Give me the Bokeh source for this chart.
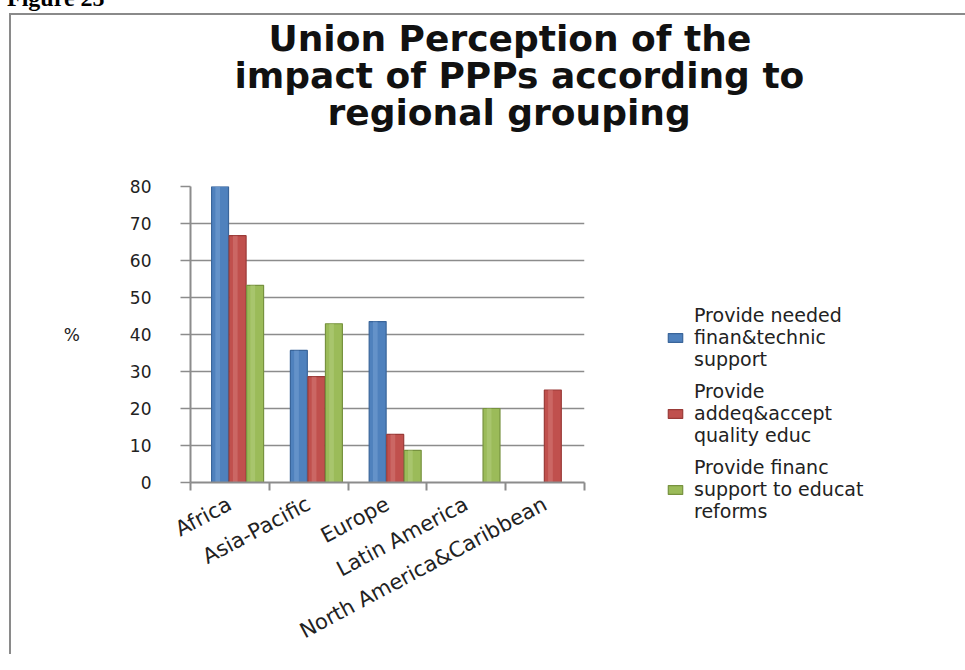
from bokeh.plotting import figure
from bokeh.models import (Range1d, LinearAxis, FixedTicker, Title, Div, CustomJSTickFormatter,
                          Legend, LegendItem, ColumnDataSource)
from bokeh.layouts import column
from bokeh.transform import dodge
from bokeh.embed import file_html
from bokeh.resources import INLINE

# ---- data ----
regions = ["Africa", "Asia-Pacific", "Europe", "Latin America", "North America&Caribbean"]
finan_technic = [80.0, 35.7, 43.5, 0.0, 0.0]
quality_educ = [66.7, 28.6, 13.0, 0.0, 25.0]
reforms_support = [53.3, 42.9, 8.7, 20.0, 0.0]
series_names = ["Provide needed\nfinan&technic\nsupport",
                "Provide\naddeq&accept\nquality educ",
                "Provide financ\nsupport to educat\nreforms"]
y_ticks = [0, 10, 20, 30, 40, 50, 60, 70, 80]
title_lines = ["Union Perception of the", "impact of PPPs according to", "regional grouping"]

n = len(regions)
pos = [i + 0.5 for i in range(n)]          # category centres on a 0..n axis
src = ColumnDataSource(dict(pos=pos, s1=finan_technic, s2=quality_educ, s3=reforms_support))

p = figure(x_range=Range1d(0, n), y_range=Range1d(0, 80),
           frame_width=392, frame_height=294, output_backend="svg", toolbar_location=None,
           x_axis_location=None, y_axis_location="left",
           min_border_left=179, min_border_right=0, min_border_top=171, min_border_bottom=174)
p.outline_line_color = None
p.background_fill_color = "white"
p.border_fill_color = "white"
p.margin = (0, 0, 0, 9)
p.styles = {"border-left": "2px solid #8a8a8a", "border-top": "2px solid #8a8a8a"}

GRAY = "#8c8c8c"
TXT = "#222222"
# y axis
p.yaxis.ticker = FixedTicker(ticks=y_ticks)
p.yaxis.axis_line_color = GRAY
p.yaxis.axis_line_width = 2
p.yaxis.major_tick_line_color = GRAY
p.yaxis.major_tick_line_width = 1.5
p.yaxis.major_tick_out = 10
p.yaxis.major_tick_in = 0
p.yaxis.minor_tick_line_color = None
p.yaxis.major_label_text_font = "DejaVu Sans"
p.yaxis.major_label_text_font_size = "17px"
p.yaxis.major_label_text_color = TXT
p.yaxis.major_label_standoff = 29
p.yaxis.axis_label = "%"
p.yaxis.axis_label_orientation = "horizontal"
p.yaxis.axis_label_text_font = "DejaVu Sans"
p.yaxis.axis_label_text_font_style = "normal"
p.yaxis.axis_label_text_font_size = "17px"
p.yaxis.axis_label_text_color = TXT
p.yaxis.axis_label_standoff = 47

p.ygrid.ticker = FixedTicker(ticks=y_ticks)
p.ygrid.grid_line_color = GRAY
p.ygrid.grid_line_width = 1.5
p.xgrid.grid_line_color = None

blank = CustomJSTickFormatter(code="return ''")

# x tick axis at category boundaries
edge_axis = LinearAxis(ticker=FixedTicker(ticks=list(range(n + 1))), formatter=blank)
edge_axis.axis_line_color = GRAY
edge_axis.axis_line_width = 2
edge_axis.major_tick_line_color = GRAY
edge_axis.major_tick_line_width = 2
edge_axis.major_tick_out = 8
edge_axis.major_tick_in = 0
edge_axis.minor_tick_line_color = None
edge_axis.major_label_standoff = 0
p.add_layout(edge_axis, "below")

# category label axis
cat_axis = LinearAxis(ticker=FixedTicker(ticks=pos),
                      major_label_overrides={c: r for c, r in zip(pos, regions)})
cat_axis.axis_line_color = None
cat_axis.major_tick_line_color = None
cat_axis.minor_tick_line_color = None
cat_axis.major_label_orientation = 0.49
cat_axis.major_label_text_font = "DejaVu Sans"
cat_axis.major_label_text_font_size = "21px"
cat_axis.major_label_text_color = TXT
cat_axis.major_label_standoff = 6
p.add_layout(cat_axis, "below")

colors = ["#4F81BD", "#C0504D", "#9BBB59"]
edges = ["#3A659A", "#9A3B38", "#77923F"]
lights = ["#7FA6D6", "#D98380", "#B8D286"]
offsets = [-0.125, 0.098, 0.32]
renderers = []
for col, c, e, l, off in zip(["s1", "s2", "s3"], colors, edges, lights, offsets):
    r = p.vbar(x=dodge("pos", off), top=col, width=0.215, source=src,
               fill_color=c, line_color=e, line_width=1.2)
    p.vbar(x=dodge("pos", off - 0.03), top=col, width=0.06, source=src,
           fill_color=l, fill_alpha=0.45, line_color=None)
    renderers.append(r)

legend = Legend(items=[LegendItem(label=nm, renderers=[r]) for nm, r in zip(series_names, renderers)],
                location=(82, -40))
legend.border_line_color = None
legend.background_fill_alpha = 0
legend.label_text_font = "DejaVu Sans"
legend.label_text_font_size = "19px"
legend.label_text_color = TXT
legend.glyph_width = 18
legend.glyph_height = 11
legend.padding = 0
legend.margin = 0
legend.spacing = 10
legend.label_standoff = 10
p.add_layout(legend, "right")

# spacer between the frame and the title block: one white (invisible) tick at the left edge
spacer = LinearAxis(ticker=FixedTicker(ticks=[0]), formatter=blank)
spacer.axis_line_color = None
spacer.major_tick_line_color = "white"
spacer.minor_tick_line_color = None
spacer.major_tick_out = 57
spacer.major_tick_in = 0
spacer.major_label_standoff = 0
p.add_layout(spacer, "above")

# title lines, stacked above the spacer (closest line first)
title_offsets = {0: 78, 1: 44, 2: 137}
for i in [2, 1, 0]:
    p.add_layout(Title(text=title_lines[i], align="left", offset=title_offsets[i], standoff=-6,
                       text_font="DejaVu Sans", text_font_style="bold",
                       text_font_size="36px", text_color="#111111"), "above")

fig_label = Div(text='<div style="position:relative; top:-14px; left:7px; font-family:\'Liberation Serif\';'
                     ' font-weight:bold; font-size:24px; line-height:24px; color:#000; white-space:nowrap;">'
                     'Figure 25</div>',
                width=200, height=13, margin=0, styles={"overflow": "visible"})

layout = column(fig_label, p, spacing=0)
open("out.html", "w").write(file_html(layout, INLINE))
